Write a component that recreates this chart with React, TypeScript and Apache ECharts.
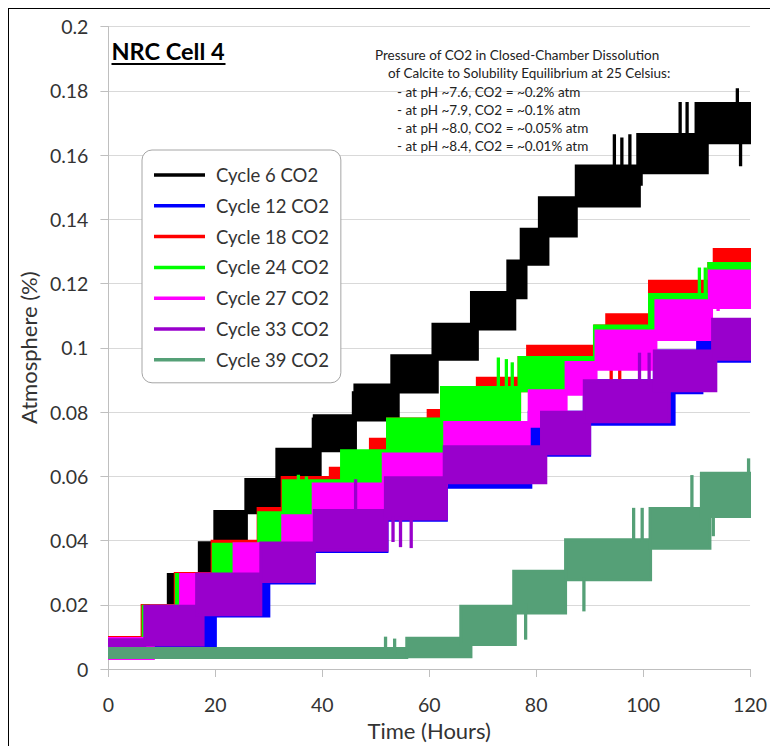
import React, { useEffect, useRef } from "react";
import * as echarts from "echarts";

// Each plateau: [startHour, endHour, lowAtm, highAtm] (band of a noisy, step-wise CO2 reading)
const cycle6 = [
  [0, 7.8, 0.006, 0.0095], [7.8, 11.2, 0.009, 0.0195], [11.2, 17.0, 0.019, 0.0294],
  [17.0, 19.9, 0.0289, 0.0393], [19.9, 25.8, 0.0388, 0.049], [25.7, 33.0, 0.0486, 0.059],
  [31.5, 39.6, 0.0586, 0.0684], [38.5, 46.2, 0.0679, 0.0788], [46.1, 54.2, 0.0775, 0.0884],
  [53.0, 61.5, 0.0862, 0.0975], [60.7, 69.0, 0.0964, 0.1073], [67.9, 76.0, 0.1058, 0.1172],
  [74.7, 78.1, 0.1156, 0.127], [77.2, 82.2, 0.126, 0.1369], [80.6, 87.5, 0.1348, 0.1467],
  [87.5, 99.3, 0.1441, 0.1566], [99.0, 112.0, 0.1545, 0.1664], [109.9, 119.9, 0.1638, 0.176],
];
const cycle12 = [
  [0, 6.8, 0.0055, 0.0091], [6.8, 20.0, 0.007, 0.0195], [16.5, 30.0, 0.0165, 0.0296],
  [28.5, 38.5, 0.0268, 0.0392], [38.5, 52.1, 0.0366, 0.0493], [51.8, 63.2, 0.0463, 0.0595],
  [62.8, 79.0, 0.0566, 0.0692], [78.7, 90.0, 0.0665, 0.0799], [89.0, 105.8, 0.0762, 0.0897],
  [102.1, 111.0, 0.086, 0.099], [110.2, 119.9, 0.0958, 0.106],
];
const cycle18 = [
  [0, 6.3, 0.006, 0.0098], [6.3, 12.5, 0.009, 0.0198], [12.5, 19.5, 0.019, 0.0297],
  [19.4, 28.0, 0.0289, 0.0398], [28.0, 32.5, 0.038, 0.05], [32.5, 41.5, 0.048, 0.0596],
  [41.5, 49.0, 0.0571, 0.0625], [49.0, 52.4, 0.06, 0.0715], [52.2, 59.8, 0.0669, 0.0778],
  [59.8, 62.3, 0.07, 0.0805], [62.3, 69.0, 0.0762, 0.0876], [69.0, 76.9, 0.08, 0.0905],
  [76.8, 78.4, 0.0866, 0.097], [78.4, 91.0, 0.09, 0.1005], [91.0, 93.2, 0.0954, 0.1068],
  [93.2, 101.3, 0.099, 0.1103], [101.2, 112.4, 0.1047, 0.1207], [112.3, 113.3, 0.114, 0.1262],
  [113.3, 119.9, 0.115, 0.1306],
];
const cycle24 = [
  [0, 6.5, 0.006, 0.0095], [6.5, 12.7, 0.009, 0.0195], [12.7, 19.6, 0.019, 0.0294],
  [19.6, 28.2, 0.0289, 0.0388], [28.1, 32.7, 0.038, 0.0486], [32.7, 43.8, 0.048, 0.0586],
  [43.6, 52.4, 0.0571, 0.0679], [52.2, 62.5, 0.0669, 0.0778], [62.3, 76.9, 0.0762, 0.0876],
  [76.8, 91.1, 0.0866, 0.097], [90.9, 101.3, 0.0954, 0.1068], [101.2, 112.5, 0.1047, 0.1166],
  [112.3, 119.9, 0.114, 0.1262],
];
const cycle27 = [
  [0, 8.4, 0.0033, 0.0095], [8.0, 14.0, 0.009, 0.0195], [13.5, 23.6, 0.019, 0.0294],
  [23.5, 32.7, 0.0278, 0.039], [32.6, 38.3, 0.0385, 0.0477], [38.3, 52.0, 0.0477, 0.0576],
  [51.4, 63.2, 0.0571, 0.0669], [62.9, 78.7, 0.0663, 0.0767], [78.7, 85.6, 0.0756, 0.0866],
  [85.6, 91.2, 0.0855, 0.0954], [91.2, 102.4, 0.0933, 0.1052], [102.4, 112.8, 0.1026, 0.1146],
  [112.4, 119.9, 0.1125, 0.1239],
];
const cycle33 = [
  [0, 6.8, 0.0065, 0.0091], [6.8, 17.7, 0.0075, 0.0195], [16.5, 28.5, 0.0169, 0.0296],
  [28.5, 38.5, 0.0272, 0.0392], [38.5, 52.1, 0.037, 0.0493], [51.8, 63.2, 0.0467, 0.0595],
  [62.8, 81.8, 0.058, 0.0692], [81.0, 90.0, 0.067, 0.0799], [89.0, 104.9, 0.077, 0.0897],
  [102.1, 113.6, 0.0866, 0.099], [113.0, 119.9, 0.0964, 0.1089],
];
const cycle39 = [
  [0, 55.8, 0.0036, 0.0064], [55.8, 67.8, 0.0038, 0.0096], [65.9, 76.1, 0.0076, 0.0195],
  [75.8, 85.5, 0.0174, 0.0304], [85.5, 101.4, 0.0278, 0.0402], [101.3, 112.5, 0.0376, 0.05],
  [110.9, 119.9, 0.0475, 0.0609],
];

// Isolated spikes: [hour, lowAtm, highAtm]
const cycle6Spikes = [
  [38.3, 0.068, 0.0778], [45.8, 0.077, 0.086], [59.8, 0.088, 0.0968], [94.6, 0.15, 0.166],
  [96.0, 0.15, 0.165], [97.5, 0.15, 0.166], [99.6, 0.1509, 0.156], [106.9, 0.163, 0.176],
  [108.2, 0.163, 0.176], [117.6, 0.17, 0.1803], [118.2, 0.157, 0.168],
];
const cycle12Spikes = [[19.6, 0.0085, 0.015], [105.3, 0.0766, 0.085]];
const cycle18Spikes = [[94.0, 0.089, 0.1], [95.6, 0.089, 0.1]];
const cycle24Spikes = [
  [35.5, 0.048, 0.06], [37.0, 0.048, 0.0595], [72.9, 0.085, 0.0965], [74.4, 0.085, 0.096],
  [75.5, 0.085, 0.095], [110.5, 0.114, 0.1245], [111.6, 0.114, 0.1245],
];
const cycle27Spikes = [[114.0, 0.1119, 0.12]];
const cycle33Spikes = [
  [46.2, 0.049, 0.0586], [53.2, 0.04, 0.047], [54.6, 0.0384, 0.047], [56.6, 0.0381, 0.047],
  [99.3, 0.089, 0.098], [101.1, 0.089, 0.098], [113.3, 0.089, 0.099],
];
const cycle39Spikes = [
  [51.8, 0.005, 0.0096], [53.5, 0.005, 0.009], [78.0, 0.0096, 0.02], [88.9, 0.0184, 0.028],
  [98.2, 0.04, 0.0497], [99.8, 0.04, 0.0497], [109.1, 0.05, 0.0599], [113.1, 0.0418, 0.048],
  [119.7, 0.0609, 0.0651],
];

const seriesNames = [
  "Cycle 6 CO2", "Cycle 12 CO2", "Cycle 18 CO2", "Cycle 24 CO2",
  "Cycle 27 CO2", "Cycle 33 CO2", "Cycle 39 CO2",
];
const seriesColors = ["#000000", "#0000FF", "#FF0000", "#00FF00", "#FF00FF", "#9900CC", "#55A077"];
const plateaus = [cycle6, cycle12, cycle18, cycle24, cycle27, cycle33, cycle39];
const spikes = [cycle6Spikes, cycle12Spikes, cycle18Spikes, cycle24Spikes, cycle27Spikes, cycle33Spikes, cycle39Spikes];

const titleText = "NRC Cell 4";
const noteLines = [
  "Pressure of CO2 in Closed-Chamber Dissolution",
  "of Calcite to Solubility Equilibrium at 25 Celsius:",
  "- at pH ~7.6, CO2 = ~0.2% atm",
  "- at pH ~7.9, CO2 = ~0.1% atm",
  "- at pH ~8.0, CO2 = ~0.05% atm",
  "- at pH ~8.4, CO2 = ~0.01% atm",
];

const FONT = "Lato";
const TXT = "#333333";

function makeRender(color: string) {
  return (params: any, api: any) => {
    const a = api.coord([api.value(0), api.value(3)]);
    const b = api.coord([api.value(1), api.value(2)]);
    return {
      type: "rect",
      shape: { x: a[0], y: a[1], width: Math.max(b[0] - a[0], 0.3), height: b[1] - a[1] },
      style: { fill: color, stroke: color, lineWidth: 3 },
    };
  };
}

export default function App() {
  const ref = useRef<HTMLDivElement>(null);
  useEffect(() => {
    if (!ref.current) return;
    const chart = echarts.init(ref.current, null, { renderer: "svg" });
    const noteX = [366, 379, 388, 388, 388, 388];
    const noteY = [46, 64.3, 83, 101, 119.3, 137];
    const option: any = {
      animation: false,
      grid: { left: 99, right: 19, top: 17.5, bottom: 76.5, containLabel: false },
      xAxis: {
        type: "value", min: 0, max: 120, interval: 20,
        name: "Time (Hours)", nameLocation: "middle", nameGap: 50,
        nameTextStyle: { fontFamily: FONT, fontSize: 22, color: TXT },
        axisLine: { show: true, lineStyle: { color: "#BFBFBF", width: 1 } },
        axisTick: { show: true, length: 8, lineStyle: { color: "#BFBFBF" } },
        axisLabel: { fontFamily: FONT, fontSize: 19.5, color: TXT, margin: 25 },
        splitLine: { show: false },
      },
      yAxis: {
        type: "value", min: 0, max: 0.2, interval: 0.02,
        name: "Atmosphere (%)", nameLocation: "middle", nameGap: 66,
        nameTextStyle: { fontFamily: FONT, fontSize: 22, color: TXT },
        axisLine: { show: true, lineStyle: { color: "#BFBFBF", width: 1 } },
        axisTick: { show: true, length: 8, lineStyle: { color: "#BFBFBF" } },
        axisLabel: {
          fontFamily: FONT, fontSize: 19.5, color: TXT, margin: 20,
          formatter: (v: number) => String(Math.round(v * 100) / 100),
        },
        splitLine: { show: true, lineStyle: { color: "#D9D9D9", width: 1 } },
      },
      legend: {
        show: true, orient: "vertical", left: 133, top: 141,
        data: seriesNames.map((n) => ({ name: n, icon: "rect" })),
        itemWidth: 51, itemHeight: 3.5, itemGap: 8.8,
        padding: [14, 12, 12, 12],
        backgroundColor: "#FFFFFF", borderColor: "#A6A6A6", borderWidth: 1, borderRadius: 10,
        textStyle: { fontFamily: FONT, fontSize: 18.5, color: TXT, lineHeight: 22, padding: [0, 0, 0, 6] },
      },
      series: seriesNames.map((name, i) => ({
        type: "custom", name,
        renderItem: makeRender(seriesColors[i]),
        itemStyle: { color: seriesColors[i] },
        encode: { x: [0, 1], y: [2, 3] },
        clip: true,
        data: plateaus[i].concat(spikes[i].map((s) => [s[0], s[0], s[1], s[2]])),
        z: 2 + i,
      })),
      graphic: [
        {
          type: "text", left: 102.5, top: 30, z: 100,
          style: { text: titleText, fontFamily: FONT, fontWeight: "bold", fontSize: 23.5, fill: "#000" },
        },
        {
          type: "line", z: 100,
          shape: { x1: 102.5, y1: 55, x2: 216.5, y2: 55 },
          style: { stroke: "#000", lineWidth: 2 },
        },
        ...noteLines.map((t, i) => ({
          type: "text", x: noteX[i], y: noteY[i], z: 100,
          style: { text: t, fontFamily: FONT, fontSize: 13.5, fill: "#222", verticalAlign: "middle" },
        })),
      ],
    };
    chart.setOption(option);
    return () => chart.dispose();
  }, []);
  return (
    <div style={{ position: "fixed", left: 8, top: 8, width: 762, height: 738, borderLeft: "1px solid #000", borderTop: "1px solid #000", boxSizing: "border-box", overflow: "hidden", background: "#fff" }}>
      <div ref={ref} style={{ width: 761, height: 737 }} />
    </div>
  );
}
